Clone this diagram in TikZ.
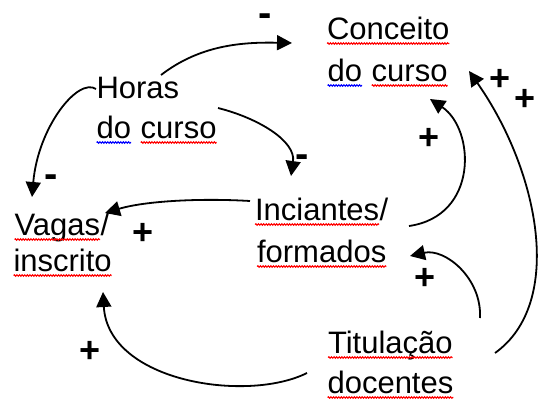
\documentclass[tikz,border=0pt]{standalone}
\usepackage{fontspec}
\setmainfont{Liberation Sans}
\usetikzlibrary{arrows.meta,decorations.pathmorphing}
\newcommand\wv[2]{\tikz[baseline=(W.base)]{\node[inner sep=0pt,outer sep=0pt,anchor=base] (W) {#2};\draw[#1,line width=1.1pt,decorate,decoration={snake,amplitude=0.7pt,segment length=2.6pt}] ([yshift=-4.5pt]W.base west) -- ([yshift=-4.5pt]W.base east);}}
\begin{document}
\begin{tikzpicture}[x=1pt,y=-1pt,
  lbl/.style={font=\fontsize{31}{36}\selectfont, inner sep=0pt, outer sep=0pt, anchor=base west},
  sgnp/.style={font=\fontsize{36}{40}\selectfont\bfseries, inner sep=0pt, anchor=base},
  sgnm/.style={font=\fontsize{40}{44}\selectfont\bfseries, inner sep=0pt, anchor=base},
  conn/.style={line width=1.8pt, -{Triangle[length=15pt,width=15pt]}}]
\useasboundingbox (0,0) rectangle (539,399);
\node[lbl] (conc1) at (326.5,39) {\wv{red}{Conceito}};
\node[lbl] (conc2) at (327,81) {\wv{blue}{do} \wv{red}{curso}};
\node[lbl] (horas1) at (96.5,98) {Horas};
\node[lbl] (horas2) at (96,138) {\wv{blue}{do} \wv{red}{curso}};
\node[lbl] (vagas1) at (14,235) {\wv{red}{Vagas}/};
\node[lbl] (vagas2) at (13,271) {\wv{red}{inscrito}};
\node[lbl] (inic1) at (254.5,220) {\wv{red}{Inciantes}/};
\node[lbl] (inic2) at (256.5,262) {\wv{red}{formados}};
\node[lbl] (tit1) at (327.5,353) {\wv{red}{Titulação}};
\node[lbl] (tit2) at (327,393) {\wv{red}{docentes}};
% connectors
\draw[conn] ([shift={(64.5,-23)}]horas1.base west) .. controls +(39,-30) and +(-50,-1) .. ([shift={(-34.5,4)}]conc1.base west);
\draw[conn] ([shift={(-0.5,-9)}]horas1.base west) .. controls +(-18,-12) and +(6,-70) .. ([shift={(18,-38)}]vagas1.base west);
\draw[conn] ([shift={(122,-30)}]horas2.base west) .. controls +(40,10) and +(5,-35) .. ([shift={(36.5,-44)}]inic1.base west);
\draw[conn] ([shift={(-4.5,-19)}]inic1.base west) .. controls +(-50,-3) and +(40,-12) .. ([shift={(91,-22)}]vagas1.base west);
\draw[conn] ([shift={(154.5,6)}]inic1.base west) .. controls +(70,-10) and +(45,30) .. ([shift={(103,18)}]conc2.base west);
\draw[conn] ([shift={(167.5,0)}]tit1.base west) .. controls +(70,-50) and +(70,100) .. ([shift={(142,-10)}]conc2.base west);
\draw[conn] ([shift={(152.5,-35)}]tit1.base west) .. controls +(2,-40) and +(35,-8) .. ([shift={(153.5,-6)}]inic2.base west);
\draw[conn] ([shift={(-20,-20)}]tit2.base west) .. controls +(-60,30) and +(5,90) .. ([shift={(90,21)}]vagas2.base west);
% signs
\node[sgnm] (m1) at (265,26.5) {-};
\node[sgnm] (m2) at (51,187.5) {-};
\node[sgnm] (m3) at (302,167.5) {-};
\node[sgnp] (p1) at (143,244.6) {+};
\node[sgnp] (p2) at (90,362.6) {+};
\node[sgnp] (p3) at (429,149.6) {+};
\node[sgnp] (p4) at (500,90.6) {+};
\node[sgnp] (p5) at (525,110.6) {+};
\node[sgnp] (p6) at (425,289.6) {+};
\end{tikzpicture}
\end{document}
